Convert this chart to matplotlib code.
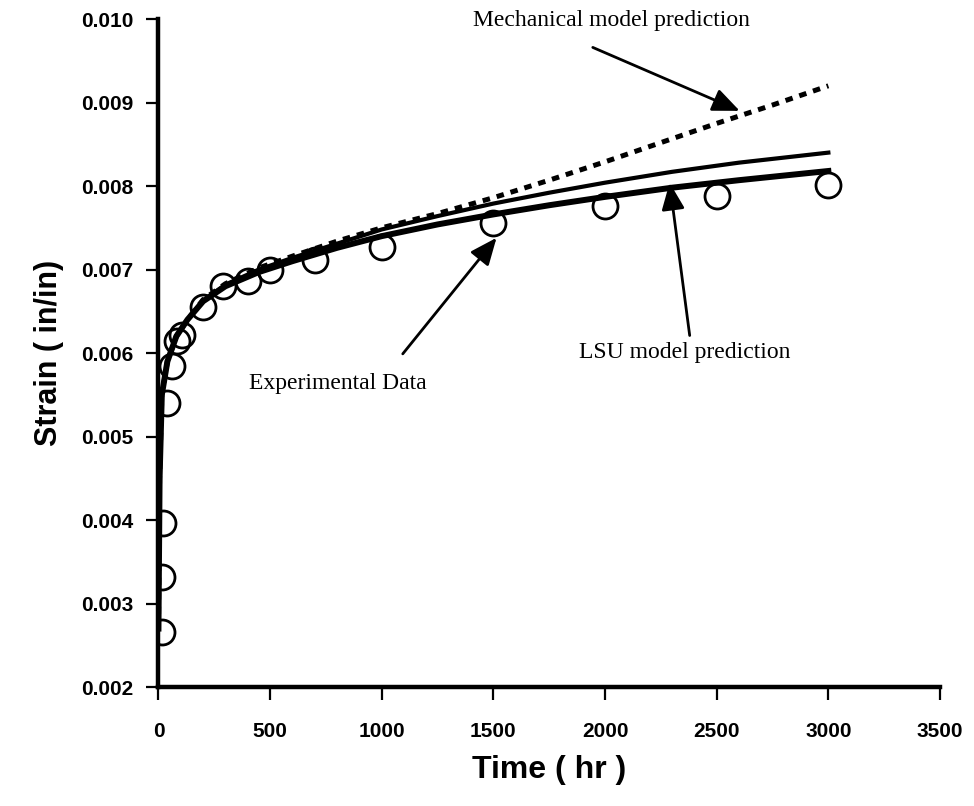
import matplotlib
matplotlib.use("Agg")
import matplotlib.pyplot as plt

# ---- data ----
exp_time = [15, 18, 22, 40, 60, 85, 105, 200, 290, 400, 500, 700, 1000, 1500, 2000, 2500, 3000]
exp_strain = [0.00266, 0.00332, 0.00397, 0.00540, 0.00585, 0.00615, 0.00622, 0.00655, 0.00680,
              0.00686, 0.00700, 0.00712, 0.00727, 0.00756, 0.00776, 0.00788, 0.00801]

lsu_time = [0, 5, 15, 40, 80, 130, 200, 300, 450, 600, 800, 1000, 1250, 1500, 1750, 2000, 2300, 2600, 3000]
lsu_strain = [0.0027, 0.0045, 0.0055, 0.0059, 0.0062, 0.0064, 0.00662, 0.00680, 0.00697, 0.00710,
              0.00726, 0.00740, 0.00754, 0.00766, 0.00777, 0.00787, 0.00798, 0.00807, 0.00818]

upper_time = [0, 5, 15, 40, 80, 130, 200, 300, 450, 600, 800, 1000, 1250, 1500, 1750, 2000, 2300, 2600, 3000]
upper_strain = [0.0027, 0.0045, 0.0055, 0.0059, 0.0062, 0.0064, 0.00663, 0.00682, 0.00700, 0.00714,
                0.00731, 0.00748, 0.00764, 0.00779, 0.00792, 0.00804, 0.00817, 0.00828, 0.00840]

mech_time = [0, 5, 15, 40, 80, 130, 200, 300, 450, 600, 800, 1000, 1250, 1500, 1750, 2000, 2250, 2500, 2750, 3000]
mech_strain = [0.0027, 0.0045, 0.0055, 0.0059, 0.0062, 0.0064, 0.00664, 0.00683, 0.00702, 0.00716,
               0.00734, 0.00750, 0.00767, 0.00786, 0.00807, 0.00829, 0.00852, 0.00875, 0.00897, 0.00920]

x_ticks = [0, 500, 1000, 1500, 2000, 2500, 3000, 3500]
y_ticks = [0.002, 0.003, 0.004, 0.005, 0.006, 0.007, 0.008, 0.009, 0.010]

fig = plt.figure(figsize=(9.74, 8.06), dpi=100)
ax = fig.add_axes([0.1627, 0.1476, 0.8024, 0.8288])

ax.plot(mech_time, mech_strain, color='black', lw=3.6, linestyle=(0, (1.5, 1.4)), zorder=2)
ax.plot(upper_time, upper_strain, color='black', lw=3.0, zorder=2)
ax.plot(lsu_time, lsu_strain, color='black', lw=4.3, zorder=2)
ax.plot(exp_time, exp_strain, linestyle='none', marker='o', ms=18, mfc='none',
        mec='black', mew=2.0, zorder=2)

ax.set_xlim(0, 3500)
ax.set_ylim(0.002, 0.010)
ax.set_xticks(x_ticks)
ax.set_yticks(y_ticks)
ax.set_xticklabels([str(v) for v in x_ticks])
ax.set_yticklabels([f"{v:.3f}" for v in y_ticks])

for s in ['top', 'right']:
    ax.spines[s].set_visible(False)
for s in ['left', 'bottom']:
    ax.spines[s].set_linewidth(3.2)
    ax.spines[s].set_zorder(3)

ax.tick_params(axis='both', direction='out', length=9, width=1.6, color='black')
ax.tick_params(axis='x', pad=16)
ax.tick_params(axis='y', pad=9)
for lab in ax.get_xticklabels() + ax.get_yticklabels():
    lab.set_fontfamily('Liberation Sans')
    lab.set_fontweight('bold')
    lab.set_fontsize(15)

ax.set_xlabel('Time ( hr )', fontfamily='Liberation Sans', fontweight='bold', fontsize=23, labelpad=10)
ax.set_ylabel('Strain ( in/in)', fontfamily='Liberation Sans', fontweight='bold', fontsize=22, labelpad=12)

arrow = dict(arrowstyle='-|>,head_length=0.75,head_width=0.32', lw=2.0, color='black',
             mutation_scale=22, shrinkA=0, shrinkB=0)
serif = dict(fontfamily='Liberation Serif', fontsize=17, color='black')

ax.text(2029, 0.00998, 'Mechanical model prediction', ha='center', va='center', **serif)
ax.annotate('', xy=(2603, 0.00890), xytext=(1945, 0.00966), arrowprops=arrow)

ax.text(804, 0.00564, 'Experimental Data', ha='center', va='center', **serif)
ax.annotate('', xy=(1514, 0.00738), xytext=(1094, 0.00599), arrowprops=arrow)

ax.text(2357, 0.00601, 'LSU model prediction', ha='center', va='center', **serif)
ax.annotate('', xy=(2289, 0.00804), xytext=(2379, 0.00621), arrowprops=arrow)

fig.savefig('out.png', dpi=100)
